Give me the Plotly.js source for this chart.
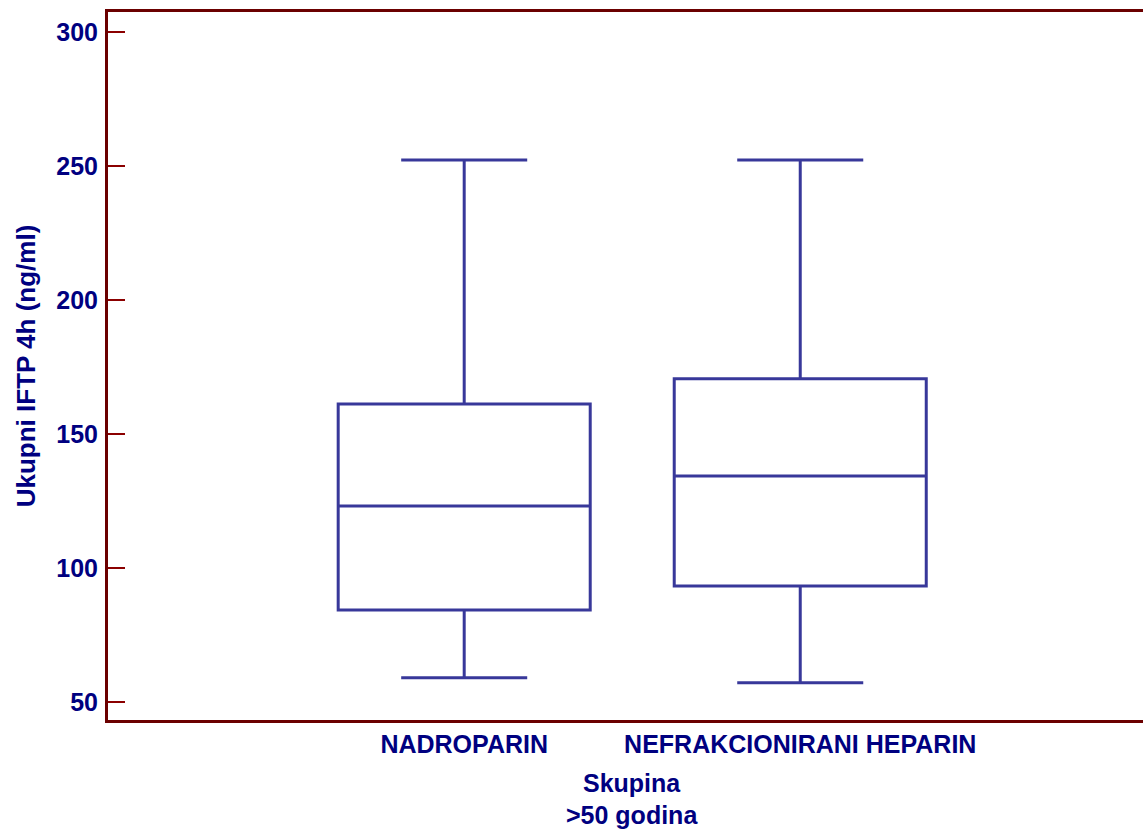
<!DOCTYPE html>
<html>
<head>
<meta charset="utf-8">
<script src="https://cdn.plot.ly/plotly-3.0.1.min.js"></script>
<style>html,body{margin:0;padding:0;background:#fff;}#chart{width:1143px;height:832px;}</style>
</head>
<body>
<div id="chart"></div>
<script>
// Data
const categories = ["NADROPARIN", "NEFRAKCIONIRANI HEPARIN"];
const lowerWhisker = [59.0, 57.2];
const q1Values = [84.3, 93.3];
const medianValues = [123.1, 134.3];
const q3Values = [161.2, 170.6];
const upperWhisker = [252.2, 252.2];
const yTickValues = [50, 100, 150, 200, 250, 300];

const navy = "#000080";
const frame = "#6b0000";
const boxColor = "#38389a";
const fontFam = "'Liberation Sans', Arial, Helvetica, sans-serif";

const trace = {
  type: "box",
  x: categories,
  q1: q1Values,
  median: medianValues,
  q3: q3Values,
  lowerfence: lowerWhisker,
  upperfence: upperWhisker,
  width: 0.75,
  whiskerwidth: 0.5,
  boxpoints: false,
  fillcolor: "rgba(0,0,0,0)",
  line: {color: boxColor, width: 3},
  hoverinfo: "skip",
  showlegend: false
};

const layout = {
  width: 1143,
  height: 832,
  margin: {l: 108, r: 0, t: 12, b: 112, pad: 0},
  paper_bgcolor: "#ffffff",
  plot_bgcolor: "#ffffff",
  font: {family: fontFam, color: navy, size: 25, weight: "bold"},
  xaxis: {
    type: "category",
    range: [-1.06, 2.02],
    showgrid: false,
    zeroline: false,
    showline: true,
    linecolor: frame,
    linewidth: 3,
    mirror: true,
    ticks: "",
    tickfont: {family: fontFam, color: navy, size: 25, weight: "bold"},
    ticklabelstandoff: 0
  },
  yaxis: {
    range: [43.28, 307.46],
    tickvals: yTickValues,
    ticktext: yTickValues.map(String),
    showgrid: false,
    zeroline: false,
    showline: true,
    linecolor: frame,
    linewidth: 3,
    ticks: "inside",
    ticklen: 17,
    tickwidth: 1.2,
    tickcolor: "#8b0000",
    tickfont: {family: fontFam, color: navy, size: 25, weight: "bold"},
    ticklabelstandoff: 2,
    title: {text: "Ukupni IFTP 4h (ng/ml)", font: {family: fontFam, color: navy, size: 26, weight: "bold"}, standoff: 14}
  },
  annotations: [
    {text: "Skupina", xref: "paper", yref: "paper", x: 0.506, y: -0.089, xanchor: "center", yanchor: "middle", showarrow: false,
     font: {family: fontFam, color: navy, size: 25, weight: "bold"}},
    {text: ">50 godina", xref: "paper", yref: "paper", x: 0.506, y: -0.134, xanchor: "center", yanchor: "middle", showarrow: false,
     font: {family: fontFam, color: navy, size: 25, weight: "bold"}}
  ]
};

Plotly.newPlot("chart", [trace], layout, {staticPlot: true, displayModeBar: false});
</script>
</body>
</html>
